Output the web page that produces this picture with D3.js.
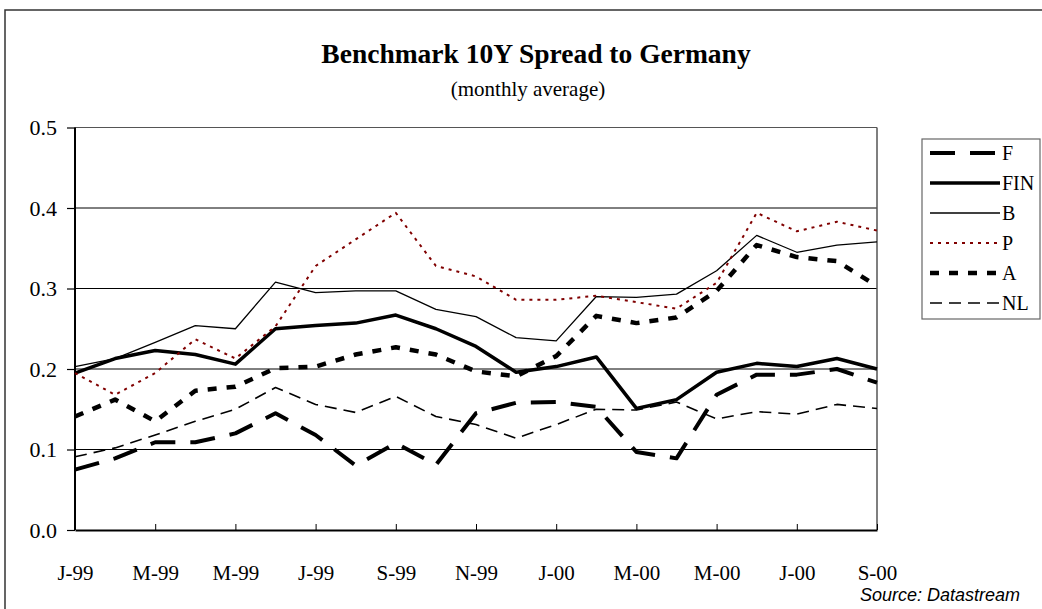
<!DOCTYPE html>
<html>
<head>
<meta charset="utf-8">
<script src="https://cdn.jsdelivr.net/npm/d3@7"></script>
<style>
  html, body { margin: 0; padding: 0; background: #fff; }
  svg { display: block; }
</style>
</head>
<body>
<svg id="chart" width="1042" height="609"></svg>
<script>
// ---- data ----
const monthLabels = ["J-99","F-99","M-99","A-99","M-99","J-99","J-99","A-99","S-99","O-99","N-99","D-99",
                     "J-00","F-00","M-00","A-00","M-00","J-00","J-00","A-00","S-00"];
const yTicks = [0, 0.1, 0.2, 0.3, 0.4, 0.5];
const seriesNames = ["F", "FIN", "B", "P", "A", "NL"];
const F   = [0.075,0.089,0.109,0.109,0.120,0.145,0.118,0.080,0.108,0.081,0.145,0.158,0.159,0.153,0.097,0.089,0.168,0.193,0.193,0.200,0.183];
const FIN = [0.195,0.213,0.223,0.218,0.206,0.250,0.254,0.257,0.267,0.250,0.228,0.196,0.203,0.215,0.151,0.162,0.196,0.207,0.203,0.213,0.200];
const B   = [0.203,0.213,0.233,0.254,0.250,0.308,0.295,0.297,0.297,0.274,0.265,0.239,0.235,0.290,0.289,0.293,0.322,0.366,0.345,0.354,0.358];
const P   = [0.195,0.168,0.195,0.237,0.213,0.253,0.328,0.361,0.394,0.328,0.315,0.286,0.286,0.291,0.283,0.275,0.307,0.394,0.371,0.383,0.372];
const A   = [0.141,0.162,0.135,0.173,0.178,0.201,0.203,0.218,0.227,0.218,0.197,0.191,0.216,0.266,0.257,0.264,0.297,0.354,0.339,0.334,0.303];
const NL  = [0.091,0.102,0.118,0.135,0.150,0.177,0.156,0.146,0.166,0.141,0.131,0.114,0.131,0.150,0.149,0.159,0.138,0.147,0.144,0.156,0.151];
const seriesValues = [F, FIN, B, P, A, NL];

// ---- styles ----
const styles = {
  F:   { color: "#000", width: 4,   dash: "25,15" },
  FIN: { color: "#000", width: 3.5, dash: null },
  B:   { color: "#000", width: 1.3, dash: null },
  P:   { color: "#800000", width: 2, dash: "3,5" },
  A:   { color: "#000", width: 4.5, dash: "9,10" },
  NL:  { color: "#000", width: 1.6, dash: "12,7" }
};

const svg = d3.select("#chart");
const serif = "'Liberation Serif','Times New Roman',serif";

// outer frame
svg.append("path").attr("d", "M5,609 L5,10 L1042,10")
  .attr("fill", "none").attr("stroke", "#333").attr("stroke-width", 1.5);

const L = 75, R = 877, T = 127.5, Bm = 530;
const x = d3.scalePoint().domain(d3.range(monthLabels.length)).range([L, R]);
const y = d3.scaleLinear().domain([0, 0.5]).range([Bm, T]);

// title
svg.append("text").attr("x", 536).attr("y", 63).attr("text-anchor", "middle")
  .attr("font-family", serif).attr("font-weight", "bold").attr("font-size", 27.5)
  .text("Benchmark 10Y Spread to Germany");
svg.append("text").attr("x", 528).attr("y", 96).attr("text-anchor", "middle")
  .attr("font-family", serif).attr("font-size", 21)
  .text("(monthly average)");

// gridlines
svg.append("g").selectAll("line").data(yTicks.filter(d => d > 0))
  .join("line")
  .attr("x1", L).attr("x2", R)
  .attr("y1", d => y(d)).attr("y2", d => y(d))
  .attr("stroke", d => d === 0.5 ? "#555" : "#000").attr("stroke-width", 1);
// right border
svg.append("line").attr("x1", R).attr("x2", R).attr("y1", T).attr("y2", Bm)
  .attr("stroke", "#555").attr("stroke-width", 1.5);

// y axis
const yAxis = svg.append("g").attr("transform", `translate(${L},0)`)
  .call(d3.axisLeft(y).tickValues(yTicks).tickFormat(d3.format(".1f")).tickSize(8).tickPadding(10));
yAxis.select(".domain").attr("stroke", "#000").attr("stroke-width", 2).attr("d", `M0,${T}V${Bm}`);
yAxis.selectAll(".tick line").attr("stroke", "#000").attr("stroke-width", 1.2);
yAxis.selectAll(".tick text").attr("font-family", serif).attr("font-size", 22).attr("fill", "#000");

// x axis
const xAxis = svg.append("g").attr("transform", `translate(0,${Bm})`)
  .call(d3.axisBottom(x).tickValues(d3.range(0, monthLabels.length, 2))
    .tickFormat(i => monthLabels[i]).tickSizeInner(-6).tickSizeOuter(0).tickPadding(35));
xAxis.select(".domain").attr("stroke", "#000").attr("stroke-width", 2);
xAxis.selectAll(".tick line").attr("stroke", "#000").attr("stroke-width", 1);
xAxis.selectAll(".tick text").attr("font-family", serif).attr("font-size", 21).attr("fill", "#000");

// lines
const line = d3.line().x((d, i) => x(i)).y(d => y(d));
seriesNames.forEach((name, k) => {
  const s = styles[name];
  svg.append("path").datum(seriesValues[k])
    .attr("d", line)
    .attr("fill", "none")
    .attr("stroke", s.color)
    .attr("stroke-width", s.width)
    .attr("stroke-dasharray", s.dash)
    .attr("stroke-linejoin", "round");
});

// legend
const lg = svg.append("g");
lg.append("rect").attr("x", 922).attr("y", 139).attr("width", 118).attr("height", 180)
  .attr("fill", "#fff").attr("stroke", "#666").attr("stroke-width", 1.2);
const ly = [153, 183, 213, 243, 273, 303];
seriesNames.forEach((name, k) => {
  const s = styles[name];
  lg.append("line").attr("x1", 930).attr("x2", 1000).attr("y1", ly[k]).attr("y2", ly[k])
    .attr("stroke", s.color).attr("stroke-width", s.width).attr("stroke-dasharray", s.dash);
  lg.append("text").attr("x", 1002).attr("y", ly[k] + 7)
    .attr("font-family", serif).attr("font-size", 20).text(name);
});

// source
svg.append("text").attr("x", 1020).attr("y", 601).attr("text-anchor", "end")
  .attr("font-family", "'Liberation Sans',Arial,sans-serif").attr("font-style", "italic")
  .attr("font-size", 18).text("Source: Datastream");
</script>
</body>
</html>
